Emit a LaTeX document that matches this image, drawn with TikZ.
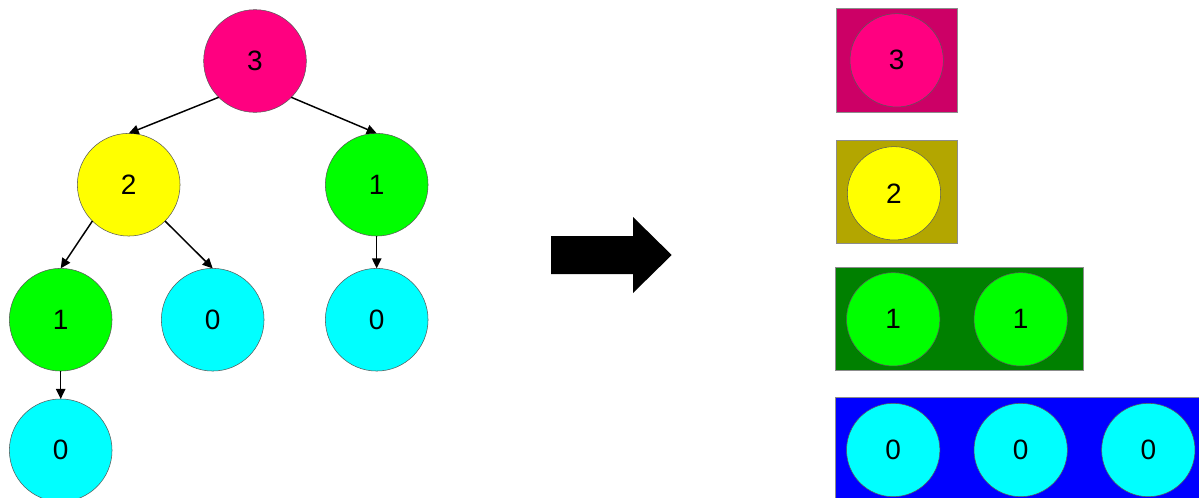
\documentclass[tikz,border=0pt]{standalone}
\usepackage{fontspec}
\setmainfont{Liberation Sans}
\usetikzlibrary{arrows.meta}
\definecolor{rootpink}{HTML}{FF0080}
\definecolor{lvyellow}{HTML}{FFFF00}
\definecolor{lvgreen}{HTML}{00FF00}
\definecolor{lvcyan}{HTML}{00FFFF}
\definecolor{boxpink}{HTML}{CC0066}
\definecolor{boxolive}{HTML}{B3A600}
\definecolor{boxgreen}{HTML}{008000}
\definecolor{boxblue}{HTML}{0000FF}
\begin{document}
\begin{tikzpicture}[x=0.75pt,y=-0.75pt,
  vtx/.style={circle, draw=black!65, line width=0.4pt, minimum size=77pt,
    inner sep=0pt, outer sep=0pt, font=\fontsize{21}{25}\selectfont},
  cell/.style={vtx, minimum size=70pt},
  link/.style={line width=1.1pt, -{Triangle[length=7.5pt,width=7pt]}},
  bucket/.style={draw=black!45, line width=0.5pt}]
\useasboundingbox (0,0) rectangle (1199,497);
\clip (0,0) rectangle (1199,497);

% tree
\node[vtx, fill=rootpink] (t3)  at (255,61)    {3};
\node[vtx, fill=lvyellow] (t2)  at (128.7,184.7) {2};
\node[vtx, fill=lvgreen]  (t1r) at (376.7,184.7) {1};
\node[vtx, fill=lvgreen]  (t1l) at (60.7,319.7)  {1};
\node[vtx, fill=lvcyan]   (t0m) at (212.7,319.7) {0};
\node[vtx, fill=lvcyan]   (t0r) at (376.7,319.7) {0};
\node[vtx, fill=lvcyan]   (t0l) at (60.7,450.3)  {0};

\draw[link] (t3.225) -- (t2.north);
\draw[link] (t3.-45) -- (t1r.north);
\draw[link] (t2.225) -- (t1l.north);
\draw[link] (t2.-45) -- (t0m.north);
\draw[link] (t1r.south) -- (t0r.north);
\draw[link] (t1l.south) -- (t0l.north);

% block arrow
\fill[black] (551,236) -- (633,236) -- (633,217) -- (671.7,255)
  -- (633,293) -- (633,274) -- (551,274) -- cycle;

% buckets by count
\draw[bucket, fill=boxpink]  (836.3,8.7)   rectangle (957,112.3);
\draw[bucket, fill=boxolive] (836.3,140.3) rectangle (957,243.7);
\draw[bucket, fill=boxgreen] (835.3,267.3) rectangle (1083,370.7);
\draw[bucket, fill=boxblue]  (835.3,397.7) rectangle (1215,520);

\node[cell, fill=rootpink] (b3)  at (896.7,60.3)  {3};
\node[cell, fill=lvyellow] (b2)  at (894,193.3)   {2};
\node[cell, fill=lvgreen]  (b1a) at (893.2,319.3) {1};
\node[cell, fill=lvgreen]  (b1b) at (1020.7,319.3) {1};
\node[cell, fill=lvcyan]   (b0a) at (893.2,450)   {0};
\node[cell, fill=lvcyan]   (b0b) at (1020.7,450)  {0};
\node[cell, fill=lvcyan]   (b0c) at (1148.3,450)  {0};
\end{tikzpicture}
\end{document}
